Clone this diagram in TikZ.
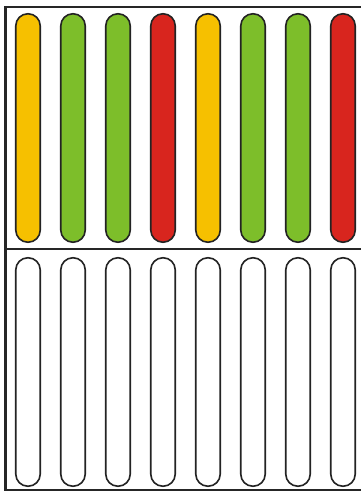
\documentclass[tikz,border=0pt]{standalone}
\usepackage{tikz}
\usetikzlibrary{positioning}
\definecolor{PillYellow}{RGB}{246, 192, 0}
\definecolor{PillGreen}{RGB}{125, 190, 42}
\definecolor{PillRed}{RGB}{216, 37, 30}
\definecolor{PillEdge}{RGB}{35, 35, 35}
\begin{document}
\begin{tikzpicture}[
            x=1pt, y=1pt,
            pill/.style={draw=PillEdge, line width=1.6pt, rounded corners=12.2pt, minimum width=24.5pt, minimum height=228.5pt, inner sep=0pt},
            filled/.style={pill},
            empty/.style={pill, fill=white},
            frame/.style={draw=black!85, line width=2.6pt}
        ]
        % --- Obszar rysunku ---
        \clip (0,0) rectangle (361,-493);
        \fill[white] (0,0) rectangle (361,-493);

        % --- Ramka i podział ---
        \draw[frame] (5.5,-7) rectangle (372,-490);
        \draw[black!85, line width=2pt] (5.5,-249) coordinate (divL) -- (372,-249) coordinate (divR);

        % --- Górny rząd: kolorowe ---
        \foreach \c [count=\i] in {PillYellow, PillGreen, PillGreen, PillRed, PillYellow, PillGreen, PillGreen, PillRed}
            \node[filled, fill=\c] (top\i) at ({28 + 45*(\i-1)}, -128) {};

        % --- Dolny rząd: puste ---
        \foreach \i in {1,...,8}
            \node[empty] (bot\i) at ({28 + 45*(\i-1)}, -372) {};
\end{tikzpicture}
\end{document}
